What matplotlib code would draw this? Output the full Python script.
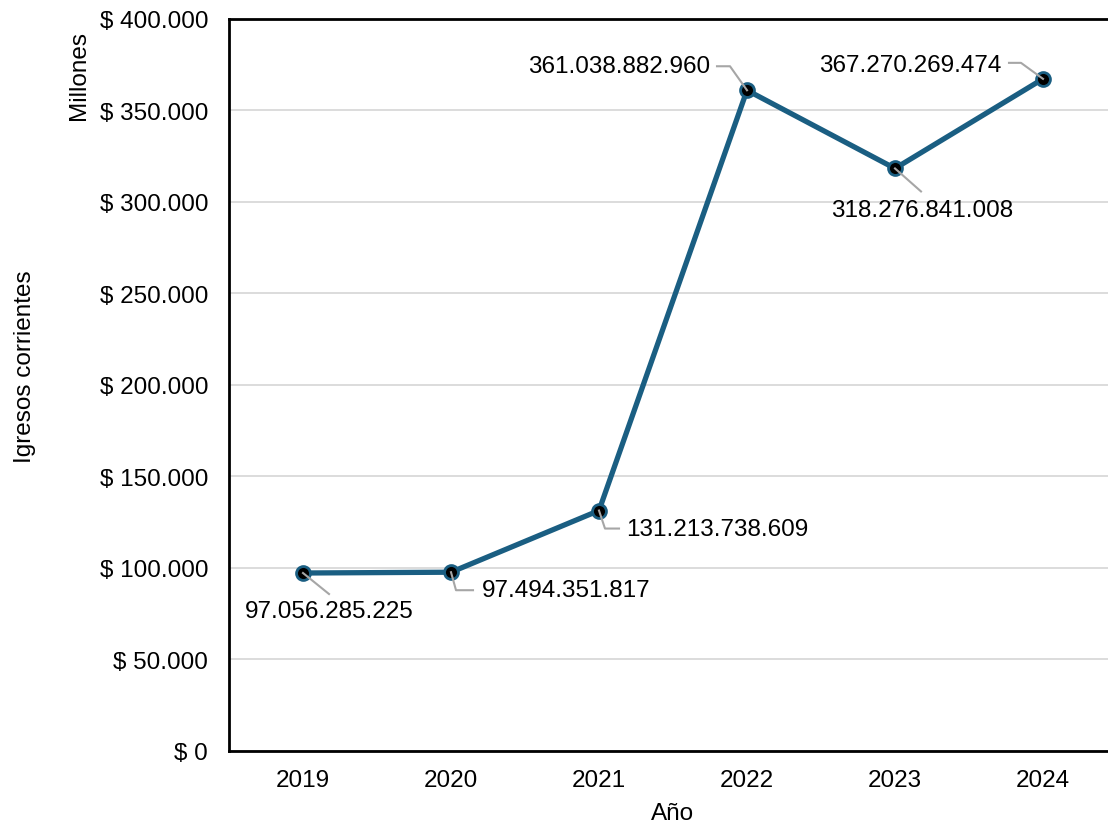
import numpy as np
import matplotlib.pyplot as plt
from matplotlib.lines import Line2D
from matplotlib.transforms import IdentityTransform

plt.rcParams['font.family'] = ['Liberation Sans', 'DejaVu Sans']

# Data
years = ['2019', '2020', '2021', '2022', '2023', '2024']
ingresos = [97056285225, 97494351817, 131213738609, 361038882960, 318276841008, 367270269474]
labels = ['97.056.285.225', '97.494.351.817', '131.213.738.609',
          '361.038.882.960', '318.276.841.008', '367.270.269.474']
yticks = [0, 50000, 100000, 150000, 200000, 250000, 300000, 350000, 400000]

millones = np.array(ingresos) / 1e6
x = np.arange(len(years))
fs = 17.5

fig = plt.figure(figsize=(11.08, 8.29), dpi=100)
ax = fig.add_axes([229 / 1108, 77.5 / 829, 888 / 1108, 731.5 / 829])

ax.set_xlim(-0.5, len(years) - 0.5)
ax.set_ylim(0, 400000)
ax.set_yticks(yticks)
ax.set_yticklabels(['$ 0' if t == 0 else '$ ' + f'{t:,}'.replace(',', '.') for t in yticks])
ax.set_xticks(x)
ax.set_xticklabels(years)
ax.tick_params(labelsize=fs, length=0, pad=13)
ax.tick_params(axis='y', pad=15)
ax.grid(axis='y', color='#d9d9d9', lw=1.3)
ax.set_axisbelow(True)
for s in ['left', 'bottom', 'top']:
    ax.spines[s].set_linewidth(2)
ax.spines['right'].set_visible(False)

ax.plot(x, millones, color='#1a5e82', lw=3.8, marker='o', ms=10,
        mfc='black', mec='#1a5e82', mew=2, zorder=3)

ax.set_xlabel('Año', fontsize=fs, labelpad=8)
fig.text(25 / 1108, 1 - 367 / 829, 'Igresos corrientes', rotation=90,
         fontsize=fs, ha='center', va='center')
fig.text(79 / 1108, 1 - 76 / 829, 'Millones', rotation=90,
         fontsize=fs, ha='center', va='center')

# leader lines (pixel offsets) and label placement
leaders = [[(0, 0), (26, -21)],
           [(0, 0), (5, -18), (22, -18)],
           [(0, 0), (6, -18), (20, -18)],
           [(0, 0), (-17, 24), (-30, 24)],
           [(0, 0), (26, -23)],
           [(0, 0), (-22, 16), (-34, 16)]]
text_off = [(26, -38, 'center'), (31, -18, 'left'), (27, -18, 'left'),
            (-37, 24, 'right'), (27, -42, 'center'), (-42, 14, 'right')]

fig.canvas.draw()
for i, v in enumerate(millones):
    px, py = ax.transData.transform((x[i], v))
    xs = [px + dx for dx, dy in leaders[i]]
    ys = [py + dy for dx, dy in leaders[i]]
    fig.add_artist(Line2D(xs, ys, transform=IdentityTransform(),
                          color='#a6a6a6', lw=1.5, zorder=2))
    dx, dy, ha = text_off[i]
    ax.annotate(labels[i], (x[i], v), xytext=(dx * 0.72, dy * 0.72),
                textcoords='offset points', ha=ha, va='center', fontsize=fs)

fig.savefig('out.png', dpi=100)
